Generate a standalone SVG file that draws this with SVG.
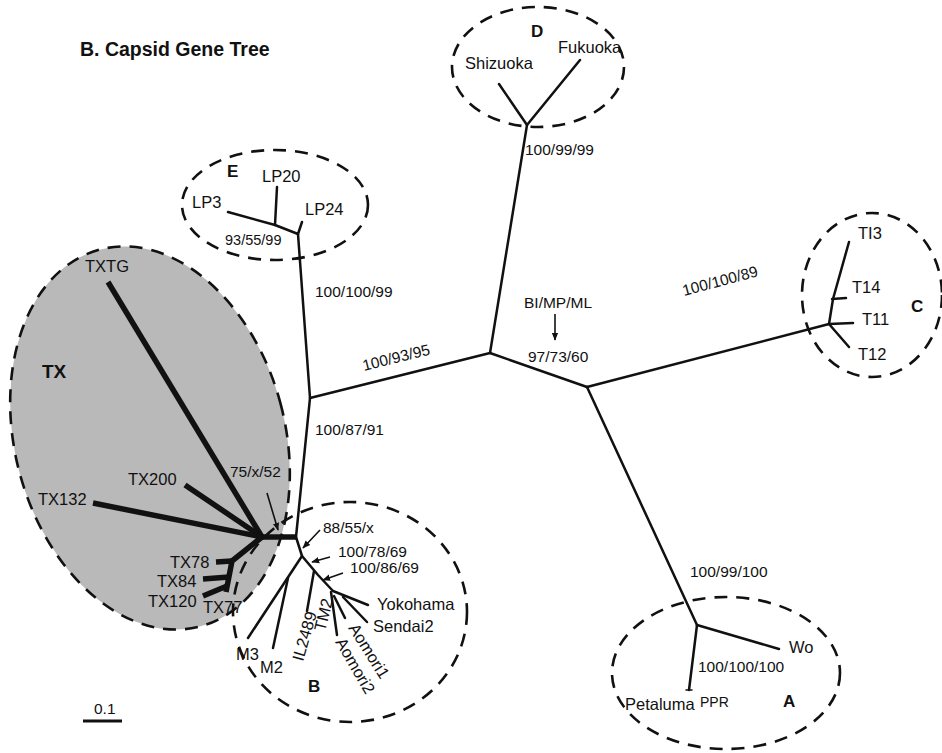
<svg xmlns="http://www.w3.org/2000/svg" width="942" height="753" viewBox="0 0 942 753">
<style>
  text { font-family: "Liberation Sans", Arial, sans-serif; fill: #111; }
  .lbl { font-size: 16.5px; }
  .num { font-size: 15.5px; }
  .big { font-size: 17px; font-weight: bold; }
  .title { font-size: 19.5px; font-weight: bold; }
  .ell { fill: none; stroke: #111; stroke-width: 2.6; stroke-dasharray: 13 9; }
  .br { fill: none; stroke: #111; stroke-width: 2.5; stroke-linejoin: round; stroke-linecap: round; }
  .thick { fill: none; stroke: #111; stroke-width: 5.5; stroke-linejoin: round; }
  .arr { fill: none; stroke: #111; stroke-width: 1.6; marker-end: url(#ah); }
</style>
<defs>
  <marker id="ah" viewBox="0 0 10 10" refX="9" refY="5" markerWidth="5" markerHeight="5" orient="auto">
    <path d="M0,1 L10,5 L0,9 z" fill="#111"/>
  </marker>
</defs>
<rect width="942" height="753" fill="#fff"/>

<text class="title" x="80" y="56">B. Capsid Gene Tree</text>

<!-- cluster TX -->
<g id="cluster-TX">
  <ellipse cx="150" cy="438" rx="135" ry="195" transform="rotate(-15 150 438)" fill="#b9b9b9" stroke="#111" stroke-width="2.6" stroke-dasharray="13 9"/>
  <text class="big" x="42" y="378" style="font-size:19px">TX</text>
  <text class="lbl" x="85" y="272">TXTG</text>
  <text class="lbl" x="128" y="485">TX200</text>
  <text class="lbl" x="38" y="505">TX132</text>
  <text class="lbl" x="170" y="568">TX78</text>
  <text class="lbl" x="157" y="587">TX84</text>
  <text class="lbl" x="148" y="607">TX120</text>
  <text class="lbl" x="203" y="613">TX77</text>
</g>

<!-- cluster D -->
<g id="cluster-D">
  <ellipse class="ell" cx="538" cy="67" rx="86" ry="60"/>
  <text class="big" x="531" y="37">D</text>
  <text class="lbl" x="465" y="69">Shizuoka</text>
  <text class="lbl" x="558" y="53">Fukuoka</text>
</g>

<!-- cluster E -->
<g id="cluster-E">
  <ellipse class="ell" cx="275" cy="205" rx="93" ry="55"/>
  <text class="big" x="227" y="177">E</text>
  <text class="lbl" x="262" y="182">LP20</text>
  <text class="lbl" x="192" y="208">LP3</text>
  <text class="lbl" x="305" y="215">LP24</text>
</g>

<!-- cluster C -->
<g id="cluster-C">
  <ellipse class="ell" cx="872" cy="295" rx="70" ry="82"/>
  <text class="big" x="911" y="312">C</text>
  <text class="lbl" x="858" y="239">TI3</text>
  <text class="lbl" x="852" y="293">T14</text>
  <text class="lbl" x="862" y="325">T11</text>
  <text class="lbl" x="858" y="360">T12</text>
</g>

<!-- cluster A -->
<g id="cluster-A">
  <ellipse class="ell" cx="726" cy="673" rx="114" ry="76"/>
  <text class="big" x="783" y="707">A</text>
  <text class="lbl" x="789" y="653">Wo</text>
  <text class="lbl" x="625" y="710">Petaluma</text>
  <text class="lbl" x="700" y="707" style="font-size:14px">PPR</text>
  <text class="num" x="698" y="672">100/100/100</text>
</g>

<!-- cluster B -->
<g id="cluster-B">
  <ellipse class="ell" cx="350" cy="612" rx="117" ry="110"/>
  <text class="big" x="308" y="692">B</text>
  <text class="lbl" x="377" y="610">Yokohama</text>
  <text class="lbl" x="373" y="632">Sendai2</text>
  <text class="lbl" x="236" y="660">M3</text>
  <text class="lbl" x="260" y="673">M2</text>
  <text class="lbl" transform="translate(303 662) rotate(-74)">IL2489</text>
  <text class="lbl" transform="translate(325 632) rotate(-76)">TM2</text>
  <text class="lbl" transform="translate(348 628) rotate(58)">Aomori1</text>
  <text class="lbl" transform="translate(335 642) rotate(60)">Aomori2</text>
</g>

<!-- connectors (tree branches) -->
<g id="connectors">
  <!-- backbone -->
  <path class="br" d="M310,398 L490,353 L587,387"/>
  <path class="br" d="M490,353 L527,125"/>
  <path class="br" d="M587,387 L829,324"/>
  <path class="br" d="M587,387 L697,625"/>
  <path class="br" d="M298,234 L310,398 L296,537"/>
  <!-- D -->
  <path class="br" d="M499,84 L527,125 L580,60"/>
  <!-- E -->
  <path class="br" d="M228,212 L275,225 L298,234 L302,222"/>
  <path class="br" d="M275,225 L277,187"/>
  <!-- C -->
  <path class="br" d="M829,324 L833,299 L849,242"/>
  <path class="br" d="M832,299 L846,298"/>
  <path class="br" d="M829,324 L853,323"/>
  <path class="br" d="M829,324 L849,347"/>
  <!-- A -->
  <path class="br" d="M697,625 L779,649"/>
  <path class="br" d="M697,625 L689,690"/>
  <path class="br" d="M686,690 L692,690" style="stroke-width:1.5"/>
  <!-- B -->
  <path class="br" d="M296,537 L302,556 L318,575 L333,591 L368,605"/>
  <path class="br" d="M302,556 L248,638"/>
  <path class="br" d="M288,578 L273,648"/>
  <path class="br" d="M314,571 L307,611"/>
  <path class="br" d="M331,592 L337,635"/>
  <path class="br" d="M334,596 L345,618"/>
  <path class="br" d="M343,597 L367,622"/>
  <!-- TX (thick) -->
  <path class="thick" d="M296,537 L262,537"/>
  <path class="thick" d="M262,537 L108,282"/>
  <path class="thick" d="M262,537 L185,485"/>
  <path class="thick" d="M262,537 L93,503"/>
  <path class="thick" d="M262,537 L232,561 L226,592"/>
  <path class="thick" d="M232,561 L216,562"/>
  <path class="thick" d="M229,577 L203,579"/>
  <path class="thick" d="M227,586 L203,596"/>
</g>

<!-- support values -->
<g id="support-labels">
  <text class="num" x="525" y="155">100/99/99</text>
  <text class="num" x="315" y="297">100/100/99</text>
  <text class="num" x="315" y="435">100/87/91</text>
  <text class="num" x="690" y="577">100/99/100</text>
  <text class="num" transform="translate(364 371) rotate(-14)">100/93/95</text>
  <text class="num" transform="translate(684 296) rotate(-15)">100/100/89</text>
  <text class="num" x="524" y="308">BI/MP/ML</text>
  <text class="num" x="528" y="362">97/73/60</text>
  <text class="num" x="225" y="245" style="font-size:14.5px">93/55/99</text>
  <text class="num" x="230" y="477">75/x/52</text>
  <text class="num" x="323" y="533">88/55/x</text>
  <text class="num" x="338" y="557">100/78/69</text>
  <text class="num" x="350" y="573">100/86/69</text>
  <text class="num" x="94" y="714">0.1</text>
</g>

<g id="arrows">
  <path class="arr" d="M555,314 L555,340"/>
  <path class="arr" d="M267,493 L278,530"/>
  <path class="arr" d="M320,530 L303,548"/>
  <path class="arr" d="M330,557 L312,562"/>
  <path class="arr" d="M343,573 L323,580"/>
</g>

<g id="scale-bar">
  <path d="M83,721 L122,721" stroke="#111" stroke-width="3"/>
</g>
</svg>
